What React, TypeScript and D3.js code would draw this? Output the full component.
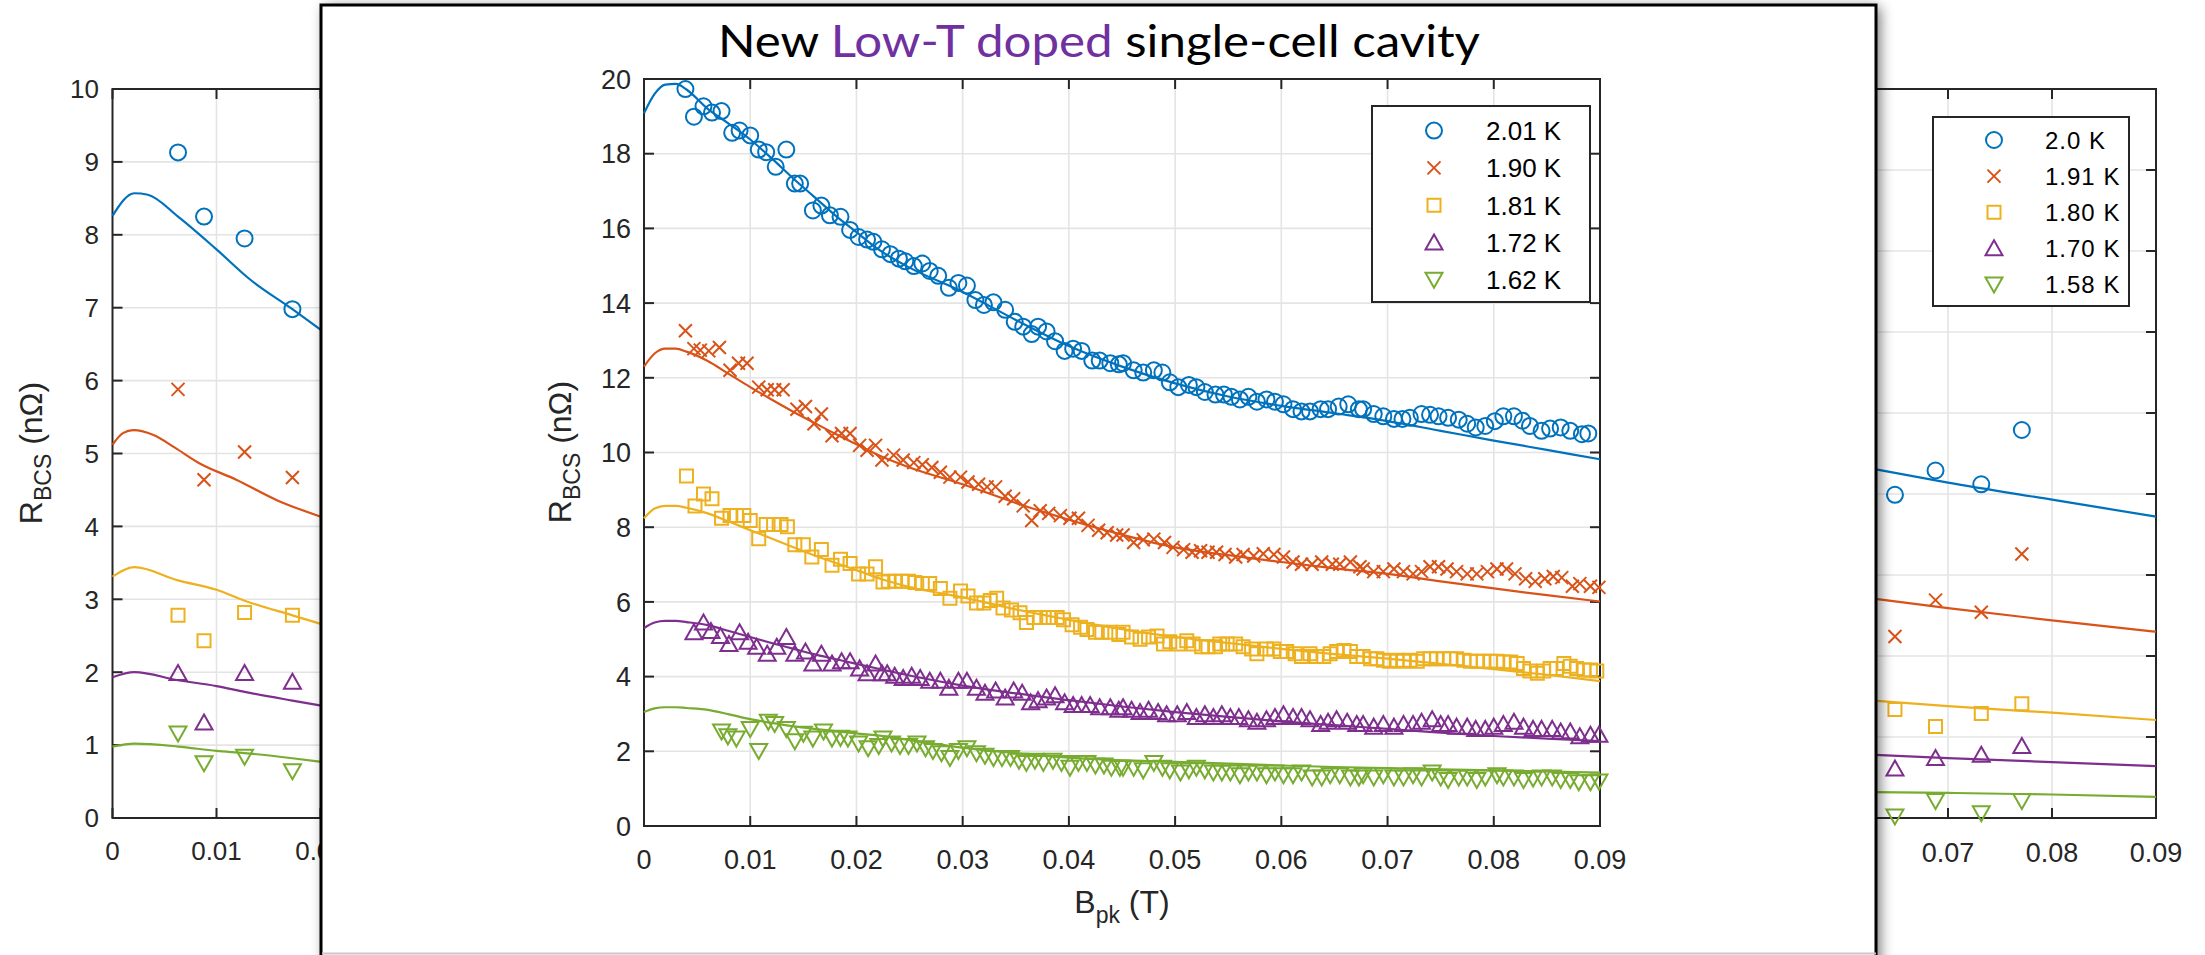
import React from 'react';
import * as d3 from 'd3';

type P = [number, number];

// ---------- shared ----------
const COLORS = ['#0072BD', '#D95319', '#EDB120', '#7E2F8E', '#77AC30'];
const MARKERS = ['circle', 'x', 'square', 'triUp', 'triDown'];
const xTicks = [0, 0.01, 0.02, 0.03, 0.04, 0.05, 0.06, 0.07, 0.08, 0.09];

// ---------- main chart ----------
const titleParts = ['New', 'Low-T doped', 'single-cell cavity'];
const mainLabels = ['2.01 K', '1.90 K', '1.81 K', '1.72 K', '1.62 K'];
const mainYTicks = [0, 2, 4, 6, 8, 10, 12, 14, 16, 18, 20];

const main201: P[] = [[0.0039,19.73],[0.0047,18.99],[0.0056,19.27],[0.0064,19.10],[0.0073,19.14],[0.0083,18.56],[0.0090,18.62],[0.0100,18.49],[0.0108,18.11],[0.0115,18.04],[0.0124,17.65],[0.0134,18.11],[0.0142,17.20],[0.0147,17.20],[0.0159,16.48],[0.0167,16.61],[0.0175,16.35],[0.0185,16.31],[0.0194,15.96],[0.0202,15.77],[0.0210,15.70],[0.0216,15.64],[0.0224,15.44],
[0.0232,15.31],[0.0240,15.19],[0.0246,15.12],[0.0254,14.99],[0.0262,15.06],[0.0269,14.86],[0.0277,14.73],[0.0287,14.41],[0.0296,14.54],[0.0304,14.47],[0.0312,14.08],[0.0320,13.95],[0.0329,14.02],[0.0340,13.82],[0.0349,13.50],[0.0357,13.37],[0.0365,13.17],[0.0371,13.37],[0.0379,13.24],[0.0387,12.98],[0.0396,12.72],[0.0404,12.78],[0.0412,12.72],[0.0422,12.46],[0.0429,12.46],[0.0439,12.39],[0.0447,12.36],
[0.0451,12.39],[0.0461,12.20],[0.0470,12.14],[0.0480,12.20],[0.0488,12.14],[0.0495,11.88],[0.0503,11.75],[0.0513,11.81],[0.0520,11.75],[0.0528,11.62],[0.0538,11.55],[0.0546,11.55],[0.0553,11.49],[0.0561,11.42],[0.0569,11.49],[0.0577,11.36],[0.0586,11.42],[0.0594,11.36],[0.0602,11.29],[0.0611,11.16],[0.0619,11.10],[0.0627,11.10],[0.0637,11.16],[0.0644,11.16],[0.0654,11.23],[0.0663,11.29],[0.0673,11.16],
[0.0677,11.16],[0.0687,11.03],[0.0696,10.97],[0.0706,10.90],[0.0714,10.90],[0.0721,10.93],[0.0732,11.03],[0.0740,11.01],[0.0748,10.97],[0.0757,10.93],[0.0767,10.88],[0.0775,10.77],[0.0783,10.67],[0.0792,10.71],[0.0801,10.84],[0.0809,10.97],[0.0819,10.97],[0.0827,10.85],[0.0834,10.71],[0.0845,10.58],[0.0853,10.64],[0.0863,10.67],[0.0872,10.58],[0.0883,10.49],[0.0889,10.51]];

const main190: P[] = [[0.0039,13.26],[0.0047,12.78],[0.0053,12.74],[0.0061,12.72],[0.0071,12.81],[0.0081,12.20],[0.0089,12.39],[0.0097,12.39],[0.0108,11.75],[0.0116,11.68],[0.0123,11.68],[0.0131,11.68],[0.0144,11.16],[0.0152,11.23],[0.0160,10.77],[0.0167,11.03],[0.0177,10.45],[0.0186,10.51],[0.0194,10.51],[0.0203,10.19],[0.0210,10.06],[0.0218,10.19],[0.0224,9.80],
[0.0235,9.93],[0.0244,9.80],[0.0254,9.73],[0.0262,9.67],[0.0271,9.60],[0.0279,9.47],[0.0288,9.34],[0.0298,9.34],[0.0305,9.21],[0.0315,9.15],[0.0323,9.08],[0.0331,9.08],[0.0340,8.83],[0.0348,8.76],[0.0357,8.57],[0.0365,8.18],[0.0373,8.44],[0.0381,8.37],[0.0392,8.31],[0.0401,8.24],[0.0409,8.24],[0.0418,8.05],[0.0428,7.92],[0.0436,7.85],[0.0445,7.79],
[0.0451,7.79],[0.0461,7.59],[0.0470,7.66],[0.0480,7.68],[0.0490,7.59],[0.0498,7.46],[0.0508,7.40],[0.0516,7.33],[0.0524,7.37],[0.0531,7.33],[0.0539,7.33],[0.0547,7.27],[0.0557,7.20],[0.0564,7.27],[0.0574,7.23],[0.0583,7.29],[0.0593,7.27],[0.0602,7.20],[0.0611,7.07],[0.0619,7.01],[0.0629,7.01],[0.0638,7.07],[0.0648,7.01],[0.0655,7.01],[0.0665,7.07],[0.0674,6.94],
[0.0677,6.88],[0.0687,6.81],[0.0696,6.81],[0.0706,6.88],[0.0715,6.81],[0.0724,6.75],[0.0732,6.81],[0.0740,6.94],[0.0748,6.94],[0.0756,6.88],[0.0765,6.81],[0.0775,6.75],[0.0784,6.75],[0.0794,6.81],[0.0803,6.88],[0.0812,6.88],[0.0820,6.75],[0.0830,6.62],[0.0839,6.55],[0.0848,6.62],[0.0856,6.68],[0.0864,6.65],[0.0874,6.42],[0.0881,6.49],[0.0891,6.42],[0.0899,6.39]];

const main181: P[] = [[0.0040,9.37],[0.0048,8.57],[0.0056,8.89],[0.0064,8.76],[0.0073,8.24],[0.0081,8.31],[0.0087,8.31],[0.0094,8.31],[0.0100,8.18],[0.0108,7.69],[0.0115,8.07],[0.0122,8.07],[0.0129,8.07],[0.0135,8.01],[0.0142,7.53],[0.0150,7.53],[0.0158,7.20],[0.0167,7.40],[0.0177,6.98],[0.0185,7.14],[0.0194,7.03],[0.0202,6.75],[0.0210,6.75],[0.0218,6.94],[0.0225,6.53],
[0.0230,6.55],[0.0236,6.55],[0.0243,6.55],[0.0249,6.55],[0.0255,6.52],[0.0262,6.49],[0.0269,6.49],[0.0279,6.36],[0.0288,6.10],[0.0298,6.29],[0.0305,6.16],[0.0313,5.97],[0.0320,5.97],[0.0326,6.04],[0.0332,6.10],[0.0338,5.84],[0.0346,5.78],[0.0354,5.71],[0.0360,5.45],[0.0367,5.58],[0.0373,5.58],[0.0381,5.58],[0.0389,5.58],[0.0395,5.52],[0.0403,5.39],[0.0411,5.32],[0.0417,5.26],[0.0425,5.19],[0.0431,5.19],[0.0439,5.19],[0.0447,5.13],
[0.0451,5.19],[0.0459,5.06],[0.0467,5.00],[0.0475,5.06],[0.0483,5.09],[0.0489,4.87],[0.0495,4.93],[0.0503,4.87],[0.0511,4.96],[0.0517,4.87],[0.0525,4.80],[0.0531,4.80],[0.0538,4.80],[0.0542,4.87],[0.0549,4.87],[0.0557,4.87],[0.0564,4.80],[0.0572,4.74],[0.0577,4.61],[0.0586,4.74],[0.0593,4.74],[0.0599,4.67],[0.0605,4.67],[0.0613,4.61],[0.0619,4.54],[0.0627,4.61],[0.0633,4.54],[0.0640,4.54],[0.0646,4.61],[0.0652,4.67],[0.0659,4.70],[0.0665,4.67],[0.0671,4.54],[0.0677,4.54],
[0.0684,4.48],[0.0690,4.48],[0.0696,4.44],[0.0702,4.41],[0.0709,4.44],[0.0715,4.41],[0.0721,4.44],[0.0728,4.41],[0.0734,4.48],[0.0740,4.48],[0.0746,4.48],[0.0753,4.48],[0.0759,4.48],[0.0765,4.48],[0.0772,4.44],[0.0778,4.41],[0.0784,4.41],[0.0790,4.41],[0.0797,4.41],[0.0803,4.41],[0.0809,4.39],[0.0816,4.39],[0.0822,4.35],[0.0828,4.22],[0.0834,4.15],[0.0841,4.09],[0.0847,4.15],[0.0853,4.22],[0.0859,4.22],[0.0866,4.35],[0.0872,4.28],[0.0878,4.22],[0.0885,4.18],[0.0891,4.18],[0.0897,4.15]];

const main172: P[] = [[0.0047,5.19],[0.0056,5.45],[0.0063,5.22],[0.0072,5.09],[0.0080,4.87],[0.0090,5.19],[0.0098,4.93],[0.0106,4.80],[0.0116,4.61],[0.0125,4.80],[0.0134,5.06],[0.0142,4.61],[0.0152,4.67],[0.0159,4.35],[0.0167,4.61],[0.0177,4.35],[0.0186,4.41],[0.0194,4.41],[0.0203,4.22],[0.0210,4.09],[0.0218,4.35],[0.0224,4.09],
[0.0229,4.09],[0.0236,4.02],[0.0244,3.96],[0.0252,4.02],[0.0260,3.96],[0.0269,3.89],[0.0279,3.89],[0.0287,3.70],[0.0296,3.89],[0.0304,3.89],[0.0313,3.70],[0.0321,3.57],[0.0331,3.63],[0.0340,3.44],[0.0348,3.63],[0.0356,3.57],[0.0364,3.31],[0.0371,3.37],[0.0379,3.44],[0.0387,3.50],[0.0396,3.31],[0.0404,3.24],[0.0412,3.24],[0.0420,3.24],[0.0429,3.18],[0.0439,3.18],[0.0447,3.11],
[0.0451,3.18],[0.0459,3.11],[0.0467,3.05],[0.0475,3.11],[0.0484,3.05],[0.0492,2.99],[0.0502,2.99],[0.0511,3.05],[0.0520,2.92],[0.0528,2.99],[0.0536,2.92],[0.0544,2.99],[0.0552,2.92],[0.0560,2.92],[0.0569,2.86],[0.0577,2.79],[0.0586,2.86],[0.0594,2.92],[0.0602,2.99],[0.0611,2.92],[0.0619,2.92],[0.0627,2.86],[0.0637,2.73],[0.0644,2.79],[0.0652,2.86],[0.0662,2.79],[0.0671,2.73],
[0.0677,2.73],[0.0687,2.66],[0.0696,2.73],[0.0706,2.66],[0.0715,2.73],[0.0724,2.73],[0.0732,2.79],[0.0742,2.86],[0.0750,2.73],[0.0757,2.73],[0.0765,2.66],[0.0775,2.66],[0.0783,2.60],[0.0792,2.60],[0.0800,2.66],[0.0809,2.73],[0.0819,2.79],[0.0828,2.66],[0.0837,2.60],[0.0845,2.60],[0.0855,2.60],[0.0863,2.53],[0.0872,2.53],[0.0881,2.40],[0.0891,2.44],[0.0899,2.44]];

const main162: P[] = [[0.0073,2.53],[0.0079,2.40],[0.0087,2.34],[0.0100,2.60],[0.0108,2.01],[0.0117,2.79],[0.0123,2.73],[0.0134,2.60],[0.0142,2.27],[0.0150,2.47],[0.0159,2.34],[0.0169,2.53],[0.0177,2.34],[0.0185,2.36],[0.0192,2.34],[0.0202,2.21],[0.0211,2.08],[0.0221,2.14],
[0.0225,2.34],[0.0233,2.21],[0.0241,2.14],[0.0249,2.14],[0.0257,2.21],[0.0265,2.08],[0.0272,2.01],[0.0280,1.95],[0.0288,1.82],[0.0296,2.01],[0.0304,2.08],[0.0313,1.95],[0.0321,1.88],[0.0329,1.82],[0.0337,1.82],[0.0345,1.82],[0.0353,1.75],[0.0360,1.69],[0.0368,1.75],[0.0376,1.69],[0.0385,1.75],[0.0393,1.69],[0.0401,1.56],[0.0409,1.69],[0.0417,1.69],[0.0425,1.62],[0.0433,1.62],[0.0440,1.56],[0.0448,1.56],
[0.0451,1.56],[0.0461,1.56],[0.0470,1.49],[0.0480,1.69],[0.0488,1.56],[0.0495,1.49],[0.0505,1.43],[0.0513,1.49],[0.0520,1.56],[0.0528,1.49],[0.0536,1.43],[0.0544,1.43],[0.0552,1.43],[0.0561,1.36],[0.0569,1.43],[0.0577,1.43],[0.0586,1.36],[0.0594,1.43],[0.0602,1.36],[0.0611,1.36],[0.0619,1.43],[0.0629,1.30],[0.0638,1.30],[0.0646,1.36],[0.0655,1.36],[0.0665,1.30],[0.0673,1.30],
[0.0677,1.36],[0.0687,1.30],[0.0696,1.36],[0.0706,1.30],[0.0715,1.30],[0.0724,1.36],[0.0732,1.30],[0.0742,1.43],[0.0750,1.30],[0.0757,1.23],[0.0767,1.30],[0.0775,1.30],[0.0784,1.23],[0.0792,1.30],[0.0803,1.36],[0.0809,1.30],[0.0819,1.30],[0.0828,1.23],[0.0837,1.27],[0.0845,1.30],[0.0855,1.30],[0.0863,1.23],[0.0872,1.23],[0.0880,1.17],[0.0891,1.17],[0.0899,1.19]];

const fit201: P[] = [[0,19.08],[0.001,19.6],[0.002,19.85],[0.003,19.87],[0.004,19.72],[0.006,19.2],[0.008,18.8],[0.010,18.38],[0.012,17.88],[0.014,17.35],[0.016,16.85],[0.018,16.35],[0.020,15.9],[0.022,15.45],[0.025,14.95],[0.030,14.3],[0.035,13.55],[0.040,12.85],[0.045,12.3],[0.050,11.85],[0.055,11.5],[0.060,11.25],[0.065,11.05],[0.070,10.84],[0.075,10.58],[0.080,10.32],[0.085,10.07],[0.090,9.82]];
const fit190: P[] = [[0,12.3],[0.001,12.65],[0.002,12.78],[0.003,12.78],[0.004,12.7],[0.006,12.45],[0.008,12.1],[0.010,11.75],[0.012,11.42],[0.014,11.1],[0.016,10.8],[0.018,10.5],[0.020,10.22],[0.0227,9.85],[0.025,9.6],[0.030,9.15],[0.035,8.65],[0.040,8.2],[0.045,7.8],[0.050,7.46],[0.055,7.25],[0.060,7.07],[0.065,6.9],[0.070,6.75],[0.075,6.55],[0.080,6.36],[0.085,6.18],[0.090,6.01]];
const fit181: P[] = [[0,8.24],[0.001,8.5],[0.002,8.57],[0.003,8.57],[0.004,8.52],[0.006,8.37],[0.008,8.15],[0.010,7.92],[0.012,7.7],[0.014,7.47],[0.016,7.25],[0.018,7.05],[0.020,6.85],[0.0227,6.58],[0.025,6.4],[0.030,6.12],[0.035,5.8],[0.040,5.52],[0.045,5.27],[0.050,5.06],[0.055,4.9],[0.060,4.74],[0.065,4.6],[0.070,4.48],[0.075,4.34],[0.080,4.2],[0.085,4.05],[0.090,3.88]];
const fit172: P[] = [[0,5.3],[0.001,5.45],[0.002,5.49],[0.003,5.49],[0.004,5.46],[0.006,5.38],[0.008,5.22],[0.010,5.06],[0.012,4.9],[0.014,4.75],[0.016,4.6],[0.018,4.47],[0.020,4.34],[0.0227,4.17],[0.025,4.03],[0.030,3.76],[0.035,3.55],[0.040,3.37],[0.045,3.2],[0.050,3.05],[0.055,2.92],[0.060,2.8],[0.065,2.7],[0.070,2.6],[0.075,2.5],[0.080,2.41],[0.085,2.34],[0.090,2.27]];
const fit162: P[] = [[0,3.05],[0.001,3.15],[0.002,3.18],[0.003,3.18],[0.004,3.16],[0.006,3.11],[0.008,2.99],[0.010,2.86],[0.012,2.76],[0.014,2.67],[0.016,2.6],[0.018,2.54],[0.020,2.48],[0.0227,2.4],[0.025,2.3],[0.030,2.1],[0.035,1.95],[0.040,1.83],[0.045,1.76],[0.050,1.72],[0.055,1.67],[0.060,1.62],[0.065,1.58],[0.070,1.55],[0.075,1.52],[0.080,1.49],[0.085,1.46],[0.090,1.43]];

// ---------- left background chart ----------
const leftYTicks = [0, 1, 2, 3, 4, 5, 6, 7, 8, 9, 10];
const leftB = [0.0063, 0.0088, 0.0127, 0.0173];
const left20 = [9.13, 8.25, 7.95, 6.98];
const left19 = [5.88, 4.64, 5.02, 4.67];
const left18 = [2.78, 2.43, 2.82, 2.78];
const left17 = [1.99, 1.31, 1.99, 1.87];
const left16 = [1.16, 0.75, 0.84, 0.64];
const leftFit20: P[] = [[0,8.26],[0.0021,8.57],[0.0034,8.55],[0.0063,8.25],[0.01,7.8],[0.0132,7.39],[0.0173,6.98],[0.0201,6.69]];
const leftFit19: P[] = [[0,5.12],[0.001,5.28],[0.002,5.32],[0.004,5.25],[0.006,5.08],[0.0083,4.87],[0.0119,4.64],[0.0158,4.36],[0.0201,4.13]];
const leftFit18: P[] = [[0,3.31],[0.0021,3.44],[0.0063,3.26],[0.01,3.13],[0.0127,2.98],[0.0173,2.78],[0.0201,2.66]];
const leftFit17: P[] = [[0,1.93],[0.0021,2.0],[0.0063,1.89],[0.01,1.81],[0.0127,1.73],[0.0173,1.61],[0.0201,1.54]];
const leftFit16: P[] = [[0,0.98],[0.0021,1.02],[0.0063,0.98],[0.01,0.92],[0.0127,0.89],[0.0173,0.82],[0.0201,0.77]];

// ---------- right background chart ----------
const rightLabels = ['2.0 K', '1.91 K', '1.80 K', '1.70 K', '1.58 K'];
const rightYTicks = [0, 1, 2, 3, 4, 5, 6, 7, 8, 9];
const rightB = [0.0649, 0.0688, 0.0732, 0.0771];
const right20 = [3.99, 4.29, 4.12, 4.79];
const right19 = [2.24, 2.69, 2.54, 3.26];
const right18 = [1.34, 1.13, 1.29, 1.41];
const right17 = [0.61, 0.74, 0.78, 0.89];
const right16 = [0.02, 0.21, 0.06, 0.21];
const rightFit20: P[] = [[0.0628,4.31],[0.07,4.14],[0.08,3.93],[0.09,3.72]];
const rightFit19: P[] = [[0.0628,2.71],[0.07,2.59],[0.08,2.44],[0.09,2.30]];
const rightFit18: P[] = [[0.0628,1.45],[0.07,1.38],[0.08,1.30],[0.09,1.21]];
const rightFit17: P[] = [[0.0628,0.78],[0.07,0.74],[0.08,0.69],[0.09,0.64]];
const rightFit16: P[] = [[0.0628,0.32],[0.07,0.31],[0.08,0.29],[0.09,0.26]];

const FONT = "'Liberation Sans', Arial, Helvetica, sans-serif";
const AX = '#262626';
const GRID = '#e4e4e4';

// horizontal band hidden by the slide frame
const FRAME_L = 321;
const FRAME_R = 1876;

function markerPath(type: string): string {
  switch (type) {
    case 'circle': { const r = 8; return `M${r},0A${r},${r} 0 1,1 ${-r},0A${r},${r} 0 1,1 ${r},0Z`; }
    case 'x': { const s = 6.5; return `M${-s},${-s}L${s},${s}M${-s},${s}L${s},${-s}`; }
    case 'square': { const s = 6.5; return `M${-s},${-s}H${s}V${s}H${-s}Z`; }
    case 'triUp': return 'M0,-8L8.5,7L-8.5,7Z';
    default: return 'M0,8L8.5,-7L-8.5,-7Z';
  }
}

type Scale = d3.ScaleLinear<number, number>;

function visible(px: number, half: number) {
  return px + half < FRAME_L + 30 || px - half > FRAME_R - 2;
}

function AxesBox({ x, y, yTicks, fs, xLabelBaseline, yLabelRight, clipHidden }: { x: Scale; y: Scale; yTicks: number[]; fs: number; xLabelBaseline: number; yLabelRight: number; clipHidden: boolean }) {
  const [x0, x1] = x.range();
  const [y0, y1] = y.range();
  const showX = (t: number) => !clipHidden || visible(x(t), 26);
  const showY = !clipHidden || visible(yLabelRight - 15, 15);
  return (
    <g>
      {xTicks.slice(1, -1).map((t) => (
        <line key={'gx' + t} x1={x(t)} x2={x(t)} y1={y0} y2={y1} stroke={GRID} strokeWidth={1.6} />
      ))}
      {yTicks.slice(1, -1).map((t) => (
        <line key={'gy' + t} x1={x0} x2={x1} y1={y(t)} y2={y(t)} stroke={GRID} strokeWidth={1.6} />
      ))}
      {xTicks.map((t) => (
        <g key={'tx' + t}>
          <line x1={x(t)} x2={x(t)} y1={y0} y2={y0 - 10} stroke={AX} strokeWidth={2} />
          <line x1={x(t)} x2={x(t)} y1={y1} y2={y1 + 10} stroke={AX} strokeWidth={2} />
          {showX(t) && (
            <text x={x(t)} y={xLabelBaseline} textAnchor="middle" fontSize={fs} fill={AX} fontFamily={FONT}>{String(t)}</text>
          )}
        </g>
      ))}
      {yTicks.map((t) => (
        <g key={'ty' + t}>
          <line x1={x0} x2={x0 + 10} y1={y(t)} y2={y(t)} stroke={AX} strokeWidth={2} />
          <line x1={x1} x2={x1 - 10} y1={y(t)} y2={y(t)} stroke={AX} strokeWidth={2} />
          {showY && (
            <text x={yLabelRight} y={y(t) + fs * 0.36} textAnchor="end" fontSize={fs} fill={AX} fontFamily={FONT}>{String(t)}</text>
          )}
        </g>
      ))}
      <rect x={x0} y={y1} width={x1 - x0} height={y0 - y1} fill="none" stroke={AX} strokeWidth={2} />
    </g>
  );
}

function Series({ x, y, pts, fit, i }: { x: Scale; y: Scale; pts: P[]; fit: P[]; i: number }) {
  const line = d3.line<P>().x((d) => x(d[0])).y((d) => y(d[1])).curve(d3.curveMonotoneX);
  const mp = markerPath(MARKERS[i]);
  return (
    <g>
      {pts.map((d, k) => (
        <path key={k} d={mp} transform={`translate(${x(d[0])},${y(d[1])})`} fill="none" stroke={COLORS[i]} strokeWidth={2} />
      ))}
      <path d={line(fit) || ''} fill="none" stroke={COLORS[i]} strokeWidth={2.2} />
    </g>
  );
}

function YLabel({ x, y, fs }: { x: number; y: number; fs: number }) {
  return (
    <text transform={`translate(${x},${y}) rotate(-90)`} textAnchor="middle" fontSize={fs} fill={AX} fontFamily={FONT}>
      R<tspan fontSize={fs * 0.72} dy={9}>BCS</tspan><tspan dy={-9}>{' (n\u03A9)'}</tspan>
    </text>
  );
}

export default function App() {
  React.useEffect(() => { document.body.style.margin = '0'; }, []);

  const mx = d3.scaleLinear().domain([0, 0.09]).range([644, 1600]);
  const my = d3.scaleLinear().domain([0, 20]).range([826, 79]);
  const lx = d3.scaleLinear().domain([0, 0.09]).range([112.5, 1048.5]);
  const ly = d3.scaleLinear().domain([0, 10]).range([818, 89]);
  const rx = d3.scaleLinear().domain([0, 0.09]).range([1220, 2156]);
  const ry = d3.scaleLinear().domain([0, 9]).range([818, 89]);

  const mainSeries = [main201, main190, main181, main172, main162];
  const mainFits = [fit201, fit190, fit181, fit172, fit162];
  const leftVals = [left20, left19, left18, left17, left16];
  const leftFits = [leftFit20, leftFit19, leftFit18, leftFit17, leftFit16];
  const rightVals = [right20, right19, right18, right17, right16];
  const rightFits = [rightFit20, rightFit19, rightFit18, rightFit17, rightFit16];

  const zip = (b: number[], v: number[]): P[] => b.map((bb, k) => [bb, v[k]]);

  return (
    <svg width={2205} height={955} style={{ position: 'absolute', left: 0, top: 0, display: 'block', background: '#fff' }}>
      <defs>
        <filter id="shadow" x="-10%" y="-10%" width="120%" height="120%">
          <feGaussianBlur stdDeviation={7} />
        </filter>
      </defs>
      <rect x={0} y={0} width={2205} height={955} fill="#fff" />

      {/* left background figure */}
      <g>
        <AxesBox x={lx} y={ly} yTicks={leftYTicks} fs={26} xLabelBaseline={860} yLabelRight={99} clipHidden={true} />
        {leftVals.map((v, i) => (
          <Series key={i} x={lx} y={ly} pts={zip(leftB, v)} fit={leftFits[i]} i={i} />
        ))}
        <YLabel x={42} y={453} fs={32} />
      </g>

      {/* right background figure */}
      <g>
        <AxesBox x={rx} y={ry} yTicks={rightYTicks} fs={27} xLabelBaseline={862} yLabelRight={1206} clipHidden={true} />
        {rightVals.map((v, i) => (
          <Series key={i} x={rx} y={ry} pts={zip(rightB, v)} fit={rightFits[i]} i={i} />
        ))}
        <rect x={1933} y={117} width={196} height={189} fill="#fff" stroke={AX} strokeWidth={2} />
        {rightLabels.map((lab, i) => {
          const yy = 140 + i * 36.1;
          return (
            <g key={lab}>
              <path d={markerPath(MARKERS[i])} transform={`translate(1994,${yy})`} fill="none" stroke={COLORS[i]} strokeWidth={2} />
              <text x={2045} y={yy + 8.5} fontSize={24} fill="#000" fontFamily={FONT} letterSpacing={1}>{lab}</text>
            </g>
          );
        })}
      </g>

      {/* main slide frame */}
      <rect x={325} y={7} width={1555} height={990} fill="#000" opacity={0.55} filter="url(#shadow)" />
      <rect x={FRAME_L} y={5} width={FRAME_R - FRAME_L} height={990} fill="#fff" stroke="#000" strokeWidth={3} />
      <line x1={FRAME_L + 1} x2={FRAME_R} y1={953.5} y2={953.5} stroke="#c8c8c8" strokeWidth={2} />

      <text x={718} y={57} fontSize={44} fontFamily="Lato, 'Open Sans', sans-serif" fill="#000" textLength={762} lengthAdjust="spacingAndGlyphs">
        {titleParts[0]}{' '}<tspan fill="#7030A0">{titleParts[1]}</tspan>{' '}{titleParts[2]}
      </text>

      <AxesBox x={mx} y={my} yTicks={mainYTicks} fs={27} xLabelBaseline={869} yLabelRight={631} clipHidden={false} />
      {mainSeries.map((s, i) => (
        <Series key={i} x={mx} y={my} pts={s} fit={mainFits[i]} i={i} />
      ))}

      <rect x={1372} y={106} width={218} height={196} fill="#fff" stroke={AX} strokeWidth={2} />
      {mainLabels.map((lab, i) => {
        const yy = 130.6 + i * 37.3;
        return (
          <g key={lab}>
            <path d={markerPath(MARKERS[i])} transform={`translate(1434,${yy})`} fill="none" stroke={COLORS[i]} strokeWidth={2} />
            <text x={1486} y={yy + 9.5} fontSize={26} fill="#000" fontFamily={FONT}>{lab}</text>
          </g>
        );
      })}

      <YLabel x={571} y={452} fs={32} />
      <text x={1122} y={913} textAnchor="middle" fontSize={32} fill={AX} fontFamily={FONT}>
        B<tspan fontSize={23} dy={10}>pk</tspan><tspan dy={-10}>{' (T)'}</tspan>
      </text>
    </svg>
  );
}
